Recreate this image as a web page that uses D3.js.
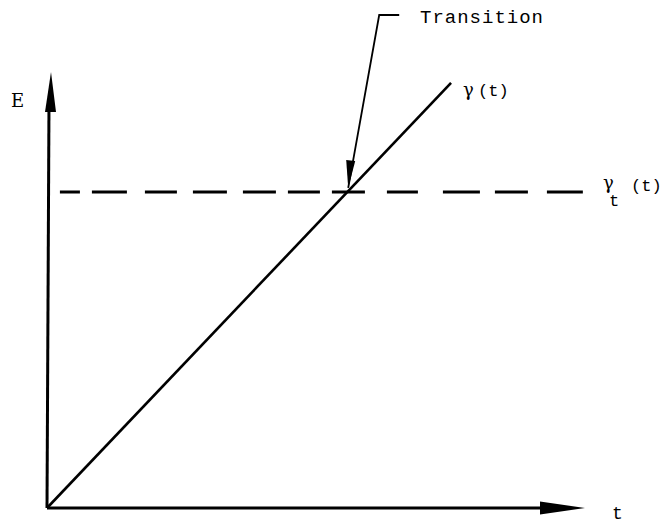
<!DOCTYPE html>
<html><head><meta charset="utf-8">
<script src="https://cdn.jsdelivr.net/npm/d3@7"></script>
<style>html,body{margin:0;padding:0;background:#fff;}svg{display:block;}</style>
</head><body>
<script>
// Data (t, E in arbitrary units)
const gammaLine = [{t:0, E:0}, {t:75.1, E:97.5}];   // γ(t)
const thresholdE = 72.5;                             // γt(t)
const thresholdRange = [2.4, 99.6];
const transitionT = 55.8;                            // crossing point
const axisLabels = {x: "t", y: "E"};
const seriesLabels = ["γ", "(t)", "γ", "t", "(t)"];
const annotation = "Transition";

(function(){
const W = 668, H = 523;
const svg = d3.select("body").append("svg").attr("width", W).attr("height", H);
const x = d3.scaleLinear().domain([0, 100]).range([47, 585]);
const y = d3.scaleLinear().domain([0, 100]).range([508, 72]);
const font = "'Liberation Mono', 'DejaVu Sans Mono', monospace";
const serif = "'DejaVu Serif', 'Liberation Serif', serif";

// axes
svg.append("line").attr("x1", x(0)).attr("y1", y(0)).attr("x2", x(100) - 30).attr("y2", y(0))
  .attr("stroke", "#000").attr("stroke-width", 3);
svg.append("line").attr("x1", x(0)).attr("y1", y(0)).attr("x2", x(0) + 2).attr("y2", y(100) + 30)
  .attr("stroke", "#000").attr("stroke-width", 3);
// arrowheads
svg.append("path").attr("d", `M${x(100)},${y(0)} L${x(100)-45},${y(0)-6.5} L${x(100)-45},${y(0)+6.5} Z`).attr("fill", "#000");
svg.append("path").attr("d", `M${x(0)+4},${y(100)} L${x(0)-2},${y(100)+40} L${x(0)+9},${y(100)+40} Z`).attr("fill", "#000");

// threshold dashed line (hand-drawn irregular dashes)
svg.append("line").attr("x1", x(thresholdRange[0])).attr("x2", x(thresholdRange[1]))
  .attr("y1", y(thresholdE)).attr("y2", y(thresholdE))
  .attr("stroke", "#000").attr("stroke-width", 3)
  .attr("stroke-dasharray", "20,12,35,18,32,16,34,16,33,12,32,12,33,22,31,25,37,15,33,19,36,100");

// gamma line
const line = d3.line().x(d => x(d.t)).y(d => y(d.E));
svg.append("path").datum(gammaLine).attr("d", line).attr("fill", "none")
  .attr("stroke", "#000").attr("stroke-width", 2.6);

// leader to transition
const tip = [x(transitionT) + 1, y(thresholdE) - 4];
const lt = [tip[0] + 31, 17];
svg.append("path").attr("d", `M${lt[0]+20},15 L${lt[0]},15 L${tip[0]},${tip[1]}`)
  .attr("fill", "none").attr("stroke", "#000").attr("stroke-width", 1.8);
svg.append("path").attr("d", `M${tip[0]},${tip[1]} L${tip[0]-2},${tip[1]-28} L${tip[0]+7},${tip[1]-27} Z`).attr("fill", "#000");

// labels
const txt = (s, px, py, fs, ff) => svg.append("text").attr("x", px).attr("y", py)
  .attr("font-family", ff || font).attr("font-size", fs).attr("fill", "#000").text(s);
txt(annotation, 420, 23, 19).attr("letter-spacing", 1);
txt(axisLabels.y, 11, 107, 18, serif);
txt(axisLabels.x, 612, 519, 18);
const ge = gammaLine[1];
txt(seriesLabels[0], x(ge.t) + 12, y(ge.E) + 13, 18, serif);
txt(seriesLabels[1], x(ge.t) + 27, y(ge.E) + 13, 17);
txt(seriesLabels[2], 603, y(thresholdE) - 3, 18, serif);
txt(seriesLabels[3], 609, y(thresholdE) + 14, 17);
txt(seriesLabels[4], 631, y(thresholdE) - 1, 17);
})();
</script>
</body></html>
